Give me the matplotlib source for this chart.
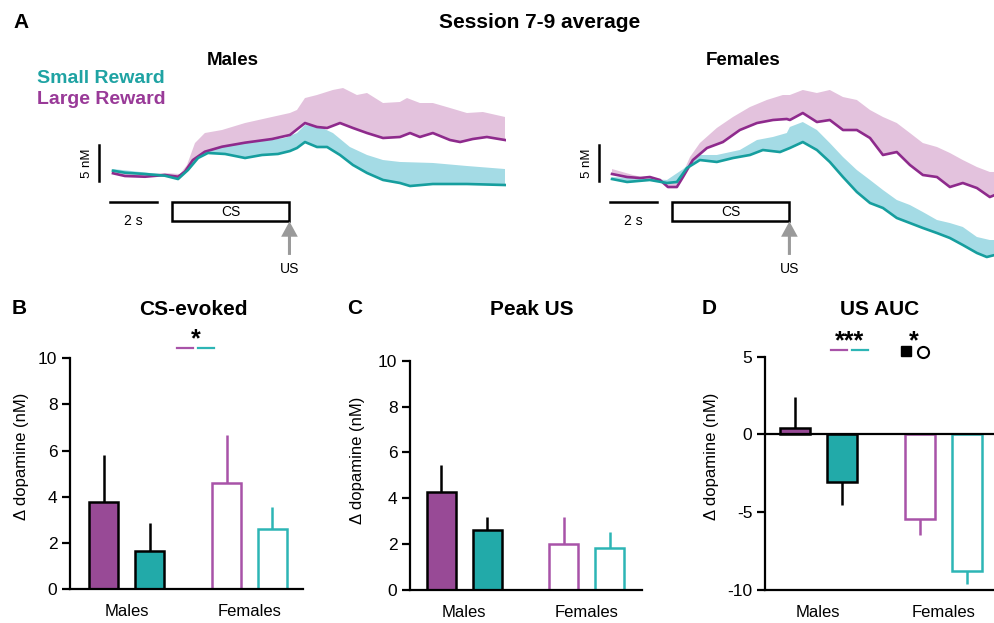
import numpy as np
import matplotlib
matplotlib.use('Agg')
import matplotlib.pyplot as plt
from matplotlib.patches import Rectangle
from matplotlib.lines import Line2D

plt.rcParams['font.family'] = ['Liberation Sans', 'DejaVu Sans']
plt.rcParams['axes.unicode_minus'] = False

# ---- traces (time in s from CS onset, dopamine in nM) ----
# males, large reward: mean and mean+SEM
m_large_t = [-2.51, -2.0, -1.15, -0.3, 0.26, 0.55, 0.89, 1.40, 2.13, 3.11, 4.26, 5.02, 5.66, 6.17,
             6.60, 7.15, 7.70, 8.30, 8.98, 9.70, 10.13, 10.55, 11.1, 11.83, 12.26, 12.8, 13.4, 14.17]
m_large = [0.24, -0.14, -0.24, 0.0, -0.24, 0.46, 2.08, 3.24, 3.93, 4.49, 5.0, 5.56, 7.22, 6.67,
           6.53, 7.22, 6.53, 5.83, 5.14, 5.28, 5.83, 5.28, 5.83, 4.86, 4.58, 5.0, 5.28, 4.86]
m_large_up_t = [-2.51, -1.15, -0.3, 0.34, 0.64, 0.98, 1.40, 2.13, 3.11, 4.26, 5.02, 5.32, 5.66, 6.17,
                6.85, 7.28, 7.87, 8.30, 8.98, 9.70, 10.0, 10.55, 11.1, 11.83, 12.55, 13.23, 14.17]
m_large_up = [0.56, 0.1, 0.28, 0.14, 1.39, 4.44, 5.83, 6.25, 7.22, 8.06, 8.61, 9.03, 10.69, 11.11,
              11.81, 12.08, 11.11, 11.39, 10.0, 10.14, 10.69, 10.0, 10.0, 9.31, 8.61, 8.75, 8.06]

# males, small reward
m_small_t = [-2.51, -2.0, -1.15, -0.3, 0.26, 0.68, 1.11, 1.53, 2.26, 3.11, 3.83, 4.51, 5.02, 5.32,
             5.66, 6.17, 6.60, 7.15, 7.70, 8.30, 8.98, 9.70, 10.13, 11.1, 12.55, 14.17]
m_small = [0.6, 0.32, 0.14, -0.1, -0.56, 0.69, 2.36, 3.06, 2.92, 2.36, 2.78, 2.92, 3.33, 3.75,
           4.58, 3.89, 3.89, 2.78, 1.39, 0.28, -0.69, -1.11, -1.53, -1.25, -1.25, -1.39]
m_small_up_t = [-2.51, -1.15, -0.3, 0.26, 0.68, 1.28, 2.26, 3.53, 4.81, 5.32, 5.66, 6.30, 6.85, 7.57,
                8.30, 8.98, 9.70, 11.1, 12.55, 14.17]
m_small_up = [0.83, 0.35, 0.07, -0.35, 1.11, 3.19, 4.17, 4.58, 5.14, 5.83, 6.94, 6.67, 5.83, 3.89,
              2.78, 2.08, 1.81, 1.67, 1.25, 0.83]

# females, large reward
f_large_t = [-2.55, -1.91, -1.36, -0.94, -0.51, -0.17, 0.21, 0.47, 0.89, 1.49, 2.17, 2.89, 3.62, 4.30,
             4.89, 5.02, 5.57, 6.17, 6.72, 7.28, 7.87, 8.43, 8.98, 9.57, 10.13, 10.68, 11.28, 11.83,
             12.38, 12.98, 13.53, 13.74]
f_large = [0.14, -0.28, -0.42, -0.28, -0.69, -1.67, -1.67, -0.28, 2.08, 3.75, 4.58, 6.25, 7.22, 7.64,
           7.78, 7.64, 8.61, 7.36, 7.64, 6.25, 6.25, 5.14, 2.78, 3.19, 1.39, 0.0, -0.28, -1.67,
           -1.11, -1.81, -3.06, -2.78]
f_large_up_t = [-2.55, -1.66, -0.21, 0.34, 0.77, 1.19, 1.91, 2.6, 3.32, 4.04, 4.72, 5.02, 5.57, 6.17,
                6.72, 7.28, 7.87, 8.43, 8.98, 9.57, 10.13, 10.68, 11.28, 11.83, 12.38, 12.98, 13.53, 13.74]
f_large_up = [0.83, 0.0, -1.11, -0.69, 2.5, 4.44, 6.53, 8.06, 9.44, 10.42, 11.11, 11.11, 11.81, 11.39,
              11.81, 10.83, 10.42, 9.03, 8.06, 7.22, 5.83, 4.44, 3.89, 3.06, 2.08, 1.11, 0.42, 0.42]

# females, small reward
f_small_t = [-2.55, -1.91, -0.94, -0.21, 0.21, 0.64, 1.19, 1.91, 2.60, 3.32, 3.87, 4.60, 5.02, 5.57,
             6.17, 6.72, 7.28, 7.87, 8.43, 8.98, 9.57, 10.13, 10.68, 11.28, 11.83, 12.38, 12.98,
             13.40, 13.74]
f_small = [-0.56, -0.97, -0.69, -1.11, -0.97, 0.97, 2.08, 1.81, 2.36, 2.78, 3.47, 3.19, 3.75, 4.58,
           3.47, 1.81, -0.28, -2.36, -3.89, -4.58, -5.97, -6.67, -7.36, -8.06, -8.75, -9.72, -10.83,
           -11.39, -11.11]
f_small_up_t = [-2.55, -0.21, 0.47, 1.19, 1.91, 2.89, 3.62, 4.30, 4.89, 5.02, 5.57, 6.17, 6.72, 7.28,
                7.87, 8.43, 8.98, 9.57, 10.13, 10.68, 11.28, 11.83, 12.38, 12.98, 13.53, 13.74]
f_small_up = [-0.28, -0.69, 0.8, 2.78, 2.78, 3.47, 4.86, 5.28, 5.83, 6.67, 7.36, 6.25, 4.44, 2.5,
              0.69, -0.69, -2.08, -3.47, -4.17, -5.14, -6.25, -6.67, -7.22, -8.61, -9.03, -9.03]

# ---- bar data (mean, SEM) : order = [Males, Females] ----
groups = ['Males', 'Females']
cs_large, cs_large_sem = [3.77, 4.61], [2.04, 2.07]
cs_small, cs_small_sem = [1.65, 2.59], [1.20, 0.95]
pk_large, pk_large_sem = [4.27, 2.01], [1.18, 1.16]
pk_small, pk_small_sem = [2.62, 1.82], [0.58, 0.72]
auc_large, auc_large_sem = [0.43, -5.42], [1.97, 1.05]
auc_small, auc_small_sem = [-3.06, -8.81], [1.50, 0.79]

PURPLE = '#8E2A8C'
TEAL = '#169E9E'
PINK = '#E3C2DD'
LBLUE = '#A4DBE5'
PURPLE_BAR = '#984A96'
TEAL_BAR = '#22AAA9'
PURPLE_EDGE = '#A853A8'
TEAL_EDGE = '#2DB5B5'
GREY = '#9A9A9A'

W, H = 995, 623
fig = plt.figure(figsize=(W / 100, H / 100), dpi=100)


def fx(x):
    return x / W


def fy(y):
    return 1 - y / H


def band(ax, t, m, tu, u, color):
    xs = np.concatenate([t, tu[::-1]])
    ys = np.concatenate([m, u[::-1]])
    ax.fill(xs, ys, color=color, lw=0)


def trace_panel(rect, xlim, large, small):
    ax = fig.add_axes(rect)
    ax.set_xlim(xlim)
    ax.set_ylim(-12.5, 12.5)
    ax.axis('off')
    band(ax, large[0], large[1], large[2], large[3], PINK)
    band(ax, small[0], small[1], small[2], small[3], LBLUE)
    ax.plot(large[0], large[1], color=PURPLE, lw=1.9)
    ax.plot(small[0], small[1], color=TEAL, lw=1.9)
    # scale bars
    ax.plot([-3.12, -3.12], [-0.83, 4.17], color='k', lw=1.8, clip_on=False)
    ax.text(-3.6, 1.67, '5 nM', rotation=90, ha='center', va='center', fontsize=9.5)
    ax.plot([-2.64, -0.64], [-3.75, -3.75], color='k', lw=1.8, clip_on=False)
    ax.text(-1.64, -6.43, '2 s', ha='center', va='center', fontsize=10)
    ax.add_patch(Rectangle((0, -6.35), 5, 2.6, fill=False, ec='k', lw=1.8, clip_on=False))
    ax.text(2.5, -5.1, 'CS', ha='center', va='center', fontsize=10)
    ax.annotate('', xy=(5, -6.45), xytext=(5, -11.1), annotation_clip=False,
                arrowprops=dict(facecolor=GREY, edgecolor='none', width=2.2,
                                headwidth=12, headlength=11, shrink=0))
    ax.text(5, -13.05, 'US', ha='center', va='center', fontsize=10)
    return ax


trace_panel([fx(108.5), fy(265), 397.2 / W, 180 / H], (-2.7, 14.2),
            (m_large_t, m_large, m_large_up_t, m_large_up),
            (m_small_t, m_small, m_small_up_t, m_small_up))
trace_panel([fx(608.5), fy(265), 386.5 / W, 180 / H], (-2.7, 13.75),
            (f_large_t, f_large, f_large_up_t, f_large_up),
            (f_small_t, f_small, f_small_up_t, f_small_up))


def bar_panel(rect, xlim, ylim, yticks, large, large_sem, small, small_sem, lab_x, lab_y):
    ax = fig.add_axes(rect)
    x = np.arange(len(groups))
    off, w = 0.187, 0.237
    fills_l = [PURPLE_BAR, 'white']
    edges_l = ['k', PURPLE_EDGE]
    fills_s = [TEAL_BAR, 'white']
    edges_s = ['k', TEAL_EDGE]
    for xs, vals, sems, fills, edges in [(x - off, large, large_sem, fills_l, edges_l),
                                         (x + off, small, small_sem, fills_s, edges_s)]:
        for i in range(len(groups)):
            v, s = vals[i], sems[i]
            yerr = [[0], [s]] if v >= 0 else [[s], [0]]
            ax.errorbar([xs[i]], [v], yerr=yerr, fmt='none', ecolor=edges[i],
                        elinewidth=1.8, capsize=0, zorder=1)
            ax.bar(xs[i], v, w, color=fills[i], edgecolor=edges[i], lw=1.8, zorder=2)
    ax.set_xlim(xlim)
    ax.set_ylim(ylim)
    ax.set_yticks(yticks)
    ax.set_xticks(x)
    ax.set_xticklabels(groups)
    for s in ['top', 'right']:
        ax.spines[s].set_visible(False)
    for s in ['left', 'bottom']:
        ax.spines[s].set_linewidth(1.6)
    ax.tick_params(axis='y', length=6, width=1.6, labelsize=12.5, pad=3)
    ax.tick_params(axis='x', length=0, labelsize=12, pad=11)
    ax.set_ylabel('Δ dopamine (nM)', fontsize=12)
    ax.yaxis.set_label_coords(lab_x, lab_y)
    return ax


bar_panel([fx(70), fy(589), 233 / W, 230.7 / H], (-0.462, 1.436), (0, 10), [0, 2, 4, 6, 8, 10],
          cs_large, cs_large_sem, cs_small, cs_small_sem, -0.176, 0.573)
bar_panel([fx(410), fy(590), 231.7 / W, 229.3 / H], (-0.443, 1.449), (0, 10), [0, 2, 4, 6, 8, 10],
          pk_large, pk_large_sem, pk_small, pk_small_sem, -0.194, 0.567)
axD = bar_panel([fx(765), fy(590), 230 / W, 233.3 / H], (-0.426, 1.41), (-10, 5), [-10, -5, 0, 5],
                auc_large, auc_large_sem, auc_small, auc_small_sem, -0.2, 0.571)
axD.axhline(0, color='k', lw=1.6, zorder=3)

# ---- text ----
fig.text(fx(13), fy(28), 'A', fontsize=15, fontweight='bold', va='baseline')
fig.text(fx(540), fy(28.3), 'Session 7-9 average', fontsize=15, fontweight='bold',
         ha='center', va='baseline')
fig.text(fx(233), fy(65), 'Males', fontsize=13.5, fontweight='bold', ha='center', va='baseline')
fig.text(fx(743), fy(65), 'Females', fontsize=13.5, fontweight='bold', ha='center', va='baseline')
fig.text(fx(37), fy(83.3), 'Small Reward', fontsize=14, fontweight='bold', color='#1FA3A3',
         va='baseline')
fig.text(fx(37), fy(103.5), 'Large Reward', fontsize=14, fontweight='bold', color='#993A98',
         va='baseline')

for lab, x in [('B', 12), ('C', 347), ('D', 702)]:
    fig.text(fx(x), fy(314), lab, fontsize=15, fontweight='bold', va='baseline')
for title, x in [('CS-evoked', 193), ('Peak US', 532), ('US AUC', 880)]:
    fig.text(fx(x), fy(315), title, fontsize=15, fontweight='bold', ha='center', va='baseline')

# significance markers
def sig_lines(x1, x2, x3, x4, y):
    fig.add_artist(Line2D([fx(x1), fx(x2)], [fy(y), fy(y)], color=PURPLE_EDGE, lw=1.6))
    fig.add_artist(Line2D([fx(x3), fx(x4)], [fy(y), fy(y)], color=TEAL_EDGE, lw=1.6))


sig_lines(176.7, 192.7, 197.7, 213.7, 347.7)
fig.text(fx(196), fy(346), '*', fontsize=18, fontweight='bold', ha='center', va='baseline')
sig_lines(831, 847.3, 851.7, 868.3, 350)
fig.text(fx(850), fy(348), '***', fontsize=18, fontweight='bold', ha='center', va='baseline')
fig.text(fx(914), fy(348), '*', fontsize=18, fontweight='bold', ha='center', va='baseline')
fig.add_artist(Line2D([fx(905.7)], [fy(351.2)], marker='s', markersize=7.5, color='k', lw=0))
fig.add_artist(Line2D([fx(922.8)], [fy(351.5)], marker='o', markersize=8, mfc='white',
                      mec='k', mew=1.5, lw=0))

fig.savefig('out.png', dpi=100)
